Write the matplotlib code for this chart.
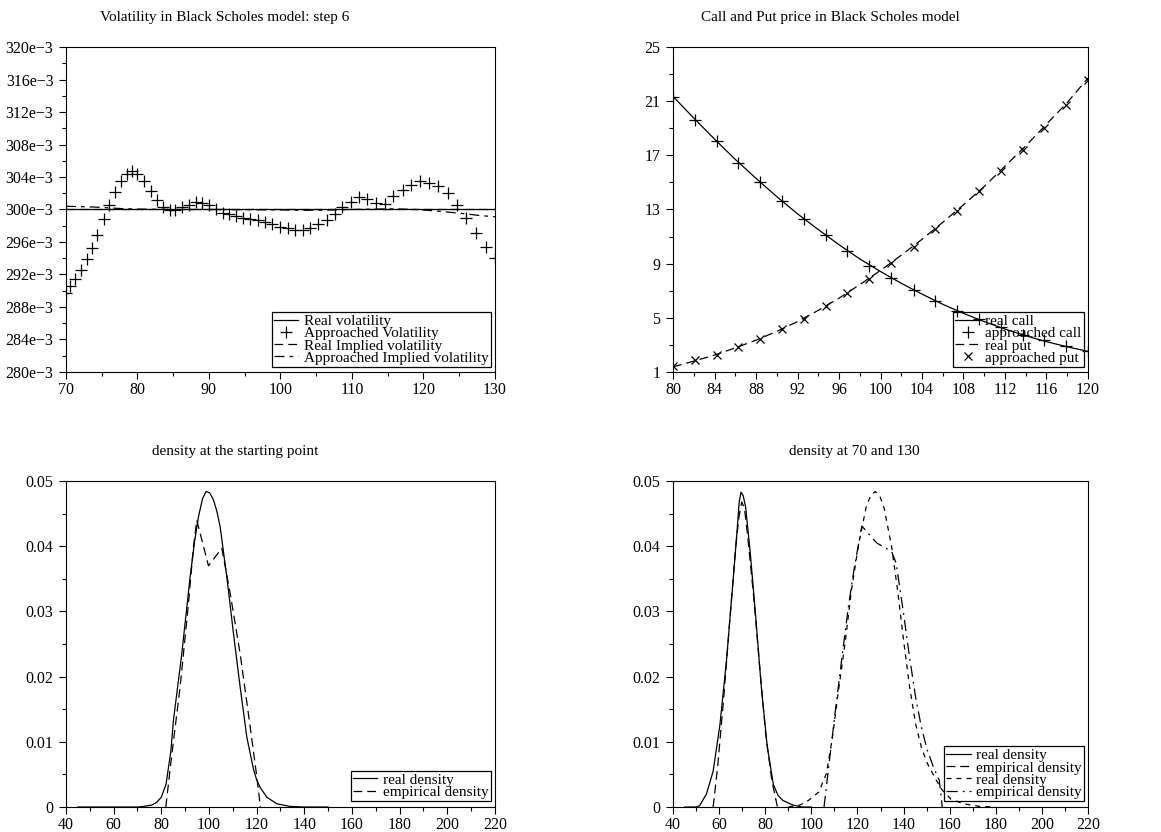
import matplotlib
matplotlib.use("Agg")
import matplotlib.pyplot as plt
from matplotlib.ticker import MultipleLocator, FuncFormatter

plt.rcParams["font.family"] = ["Liberation Serif", "DejaVu Serif"]
plt.rcParams["axes.linewidth"] = 0.8

FS = 11.5
LEG_FS = 11
TITLE_FS = 11

# --- volatility (top left) ---
vol_strikes = [70.0, 70.6, 71.3, 72.05, 72.9, 73.6, 74.4, 75.3, 76.0, 76.8, 77.7, 78.5, 79.2, 80.0,
               80.9, 81.9, 82.7, 83.6, 84.5, 85.3, 86.3, 87.2, 88.2, 89.0, 90.0, 91.0, 91.9, 92.8,
               93.8, 94.8, 95.8, 96.8, 97.9, 98.8, 100.0, 101.0, 102.1, 103.2, 104.1, 105.3, 106.5,
               107.6, 108.6, 109.9, 111.0, 112.1, 113.4, 114.6, 115.8, 117.1, 118.3, 119.5, 120.8,
               122.1, 123.5, 124.7, 126.0, 127.3, 128.7, 130.0]
approached_vol = [289.7, 290.6, 291.4, 292.6, 293.9, 295.3, 296.8, 298.8, 300.5, 302.1, 303.5, 304.4,
                  304.7, 304.4, 303.5, 302.3, 301.2, 300.25, 299.9, 299.9, 300.25, 300.6, 300.9, 300.8,
                  300.5, 300.0, 299.6, 299.4, 299.2, 299.0, 298.8, 298.7, 298.5, 298.2, 297.9, 297.7,
                  297.5, 297.5, 297.7, 298.2, 298.7, 299.4, 300.3, 300.9, 301.5, 301.3, 300.8, 300.65,
                  301.6, 302.4, 303.0, 303.5, 303.3, 302.9, 302.0, 300.6, 298.9, 297.1, 295.4, 294.0]
real_vol_x = [70, 130]
real_vol = [300.0, 300.0]
real_implied_x = [70, 130]
real_implied = [300.0, 300.0]
appr_implied_x = [70, 72, 74, 76, 78, 80, 85, 90, 95, 100, 103, 106, 110, 113, 116, 119, 122, 125, 128, 130]
appr_implied = [300.4, 300.35, 300.3, 300.2, 300.1, 300.05, 300.0, 300.0, 299.98, 299.95, 299.9, 299.92,
                300.0, 300.05, 300.08, 300.0, 299.8, 299.55, 299.25, 299.1]

# --- call and put (top right) ---
cp_strikes = [80.0, 82.1, 84.2, 86.3, 88.4, 90.5, 92.6, 94.7, 96.8, 98.9, 101.0, 103.2, 105.3, 107.4,
              109.5, 111.6, 113.7, 115.8, 117.9, 120.0]
approached_call = [21.3, 19.64, 18.05, 16.47, 15.02, 13.6, 12.3, 11.1, 9.91, 8.86, 7.97, 7.06, 6.25,
                   5.54, 4.9, 4.3, 3.75, 3.33, 2.89, 2.52]
approached_put = [1.41, 1.85, 2.27, 2.86, 3.45, 4.19, 4.93, 5.88, 6.82, 7.9, 9.08, 10.2, 11.54, 12.86,
                  14.34, 15.84, 17.43, 19.05, 20.75, 22.54]
line_strikes = [80, 82, 84, 86, 88, 90, 92, 94, 96, 98, 100, 102, 104, 106, 108, 110, 112, 114, 116, 118, 120]
real_call = [21.35, 19.75, 18.2, 16.7, 15.3, 13.95, 12.68, 11.52, 10.4, 9.35, 8.42, 7.55, 6.75, 6.0,
             5.33, 4.72, 4.17, 3.67, 3.24, 2.86, 2.52]
real_put = [1.38, 1.8, 2.25, 2.78, 3.35, 4.0, 4.72, 5.55, 6.45, 7.45, 8.5, 9.62, 10.8, 12.05, 13.35,
            14.7, 16.2, 17.7, 19.3, 20.9, 22.7]

# --- density at starting point (bottom left) ---
start_real_x = [45, 60, 70, 72.6, 76, 78, 80, 82, 84, 85.1, 88.6, 92.1, 94, 95.6, 97.3, 98.8, 100.3,
                101.9, 103.3, 104.7, 107.5, 110.3, 113.1, 115.9, 118.7, 120, 121.5, 124.3, 128.5, 134,
                140, 150]
start_real = [0, 0, 0, 0.0001, 0.0003, 0.0007, 0.0015, 0.0035, 0.0085, 0.0133, 0.0235, 0.0353, 0.0408,
              0.0445, 0.0473, 0.0484, 0.0482, 0.0471, 0.0454, 0.043, 0.0353, 0.0266, 0.0184, 0.0107,
              0.0058, 0.0042, 0.003, 0.0015, 0.0005, 0.0001, 0, 0]
start_emp_x = [81.9, 84.4, 87.9, 91.4, 93.5, 94.9, 99.8, 105.4, 108.9, 113.1, 117.3, 120.1, 121.6]
start_emp = [0, 0.008, 0.0184, 0.0312, 0.0399, 0.044, 0.037, 0.0397, 0.0328, 0.0235, 0.0123, 0.0046, 0]

# --- density at 70 and 130 (bottom right) ---
d70_real_x = [45, 50, 51.5, 54.5, 57.4, 60.3, 63.2, 66.0, 67.8, 68.7, 69.5, 70.4, 71.5, 73.5, 75.8,
              78.3, 80.9, 83.5, 85.5, 87.7, 92, 96, 100]
d70_real = [0, 0, 0.0002, 0.002, 0.0055, 0.0125, 0.0225, 0.0345, 0.0425, 0.0468, 0.0483, 0.0478, 0.046,
            0.039, 0.0295, 0.0184, 0.0092, 0.0035, 0.0018, 0.001, 0.0003, 0, 0]
d70_emp_x = [57.4, 59.3, 62, 64.6, 67.2, 68.6, 69.8, 71.0, 72.4, 75.0, 77.6, 80.2, 82.9, 85.3]
d70_emp = [0, 0.006, 0.0168, 0.0286, 0.0399, 0.0445, 0.0468, 0.0458, 0.0415, 0.0322, 0.0214, 0.0112,
           0.004, 0]
d130_real_x = [90, 95, 98.7, 103.2, 106.5, 109, 111.6, 114.8, 117.4, 120.6, 123.9, 125.8, 127.7, 129.6,
               131.6, 134.8, 137.4, 140, 142.6, 145.2, 147.7, 150.3, 154.2, 156.8, 160.6, 166, 173, 180]
d130_real = [0, 0.0003, 0.001, 0.0023, 0.0051, 0.0103, 0.0174, 0.0256, 0.0333, 0.0405, 0.0462, 0.0478,
             0.0484, 0.0478, 0.0458, 0.04, 0.0333, 0.0256, 0.0185, 0.0128, 0.0092, 0.0067, 0.0041,
             0.0026, 0.0012, 0.0005, 0.0001, 0]
d130_emp_x = [105.5, 107.7, 110.3, 113.5, 116.1, 118.7, 121.9, 128.4, 134.8, 136.8, 140, 142.6, 145.2,
              147.7, 150.3, 152.9, 155.5, 156.8]
d130_emp = [0, 0.0067, 0.0144, 0.0236, 0.0308, 0.0369, 0.0431, 0.0405, 0.0392, 0.0374, 0.0297, 0.023,
            0.0169, 0.0123, 0.0087, 0.0062, 0.0041, 0]

LW = 0.9
LONG_DASH = (7, 4)
SHORT_DASH = (4, 4)
DASH_DOT = (8, 4, 3, 4)
DASH_DOT2 = (9, 4, 1.5, 4)


def style_axes(ax, xmajor, xminor, ymajor, yminor, yoffset=0.0):
    ax.xaxis.set_major_locator(MultipleLocator(xmajor))
    ax.xaxis.set_minor_locator(MultipleLocator(xminor))
    ax.yaxis.set_major_locator(MultipleLocator(ymajor, offset=yoffset))
    ax.yaxis.set_minor_locator(MultipleLocator(yminor, offset=yoffset))
    ax.tick_params(which="both", direction="out", width=0.8, labelsize=FS,
                   top=False, right=False)
    ax.tick_params(which="major", length=5)
    ax.tick_params(which="minor", length=3)
    ax.tick_params(axis="y", pad=4)
    ax.tick_params(axis="x", pad=2)


def add_legend(ax, y_anchor):
    leg = ax.legend(loc="lower right", bbox_to_anchor=(0.99, y_anchor), borderaxespad=0,
                    fontsize=LEG_FS, frameon=True, fancybox=False, framealpha=1, facecolor="none",
                    edgecolor="black", handlelength=1.6, handletextpad=0.35, borderpad=0.15,
                    labelspacing=-0.1)
    leg.get_frame().set_linewidth(0.9)
    return leg


fig = plt.figure(figsize=(11.61, 8.32), dpi=100)

# top left
ax1 = fig.add_axes([0.0568, 0.5529, 0.3695, 0.3906])
ax1.plot(real_vol_x, real_vol, color="black", lw=LW, label="Real volatility")
ax1.plot(vol_strikes, approached_vol, ls="none", marker="+", ms=8, mew=0.9, color="black",
         label="Approached Volatility")
ax1.plot(real_implied_x, real_implied, color="black", lw=LW, dashes=LONG_DASH,
         label="Real Implied volatility")
ax1.plot(appr_implied_x, appr_implied, color="black", lw=LW, dashes=DASH_DOT,
         label="Approached Implied volatility")
ax1.set_xlim(70, 130)
ax1.set_ylim(280, 320)
style_axes(ax1, 10, 5, 4, 2)
ax1.yaxis.set_major_formatter(FuncFormatter(lambda v, p: f"{int(round(v))}e\u22123"))
add_legend(ax1, 0.015)

# top right
ax2 = fig.add_axes([0.5797, 0.5529, 0.3574, 0.3906])
ax2.plot(line_strikes, real_call, color="black", lw=LW, label="real call")
ax2.plot(cp_strikes, approached_call, ls="none", marker="+", ms=8, mew=0.9, color="black",
         label="approached call")
ax2.plot(line_strikes, real_put, color="black", lw=LW, dashes=LONG_DASH, label="real put")
ax2.plot(cp_strikes, approached_put, ls="none", marker="x", ms=6, mew=0.9, color="black",
         label="approached put")
ax2.set_xlim(80, 120)
ax2.set_ylim(1, 25)
style_axes(ax2, 4, 2, 4, 2, yoffset=1)
add_legend(ax2, 0.015)

# bottom left
ax3 = fig.add_axes([0.0568, 0.0300, 0.3695, 0.3918])
ax3.plot(start_real_x, start_real, color="black", lw=LW, label="real density")
ax3.plot(start_emp_x, start_emp, color="black", lw=LW, dashes=LONG_DASH, label="empirical density")
ax3.set_xlim(40, 220)
ax3.set_ylim(0, 0.05)
style_axes(ax3, 20, 10, 0.01, 0.005)
ax3.yaxis.set_major_formatter(FuncFormatter(lambda v, p: "0" if abs(v) < 1e-9 else f"{v:.2f}"))
add_legend(ax3, 0.018)

# bottom right
ax4 = fig.add_axes([0.5797, 0.0300, 0.3574, 0.3918])
ax4.plot(d70_real_x, d70_real, color="black", lw=LW, label="real density")
ax4.plot(d70_emp_x, d70_emp, color="black", lw=LW, dashes=LONG_DASH, label="empirical density")
ax4.plot(d130_real_x, d130_real, color="black", lw=LW, dashes=SHORT_DASH, label="real density")
ax4.plot(d130_emp_x, d130_emp, color="black", lw=LW, dashes=DASH_DOT2, label="empirical density")
ax4.set_xlim(40, 220)
ax4.set_ylim(0, 0.05)
style_axes(ax4, 20, 10, 0.01, 0.005)
ax4.yaxis.set_major_formatter(FuncFormatter(lambda v, p: "0" if abs(v) < 1e-9 else f"{v:.2f}"))
add_legend(ax4, 0.018)

# titles
fig.text(225 / 1161, 1 - 17 / 832, "Volatility in Black Scholes model: step 6", ha="center", va="center", fontsize=TITLE_FS)
fig.text(830 / 1161, 1 - 17 / 832, "Call and Put price in Black Scholes model", ha="center", va="center", fontsize=TITLE_FS)
fig.text(235 / 1161, 1 - 452 / 832, "density at the starting point", ha="center", va="center", fontsize=TITLE_FS)
fig.text(854 / 1161, 1 - 452 / 832, "density at 70 and 130", ha="center", va="center", fontsize=TITLE_FS)

fig.savefig("out.png", dpi=100)
